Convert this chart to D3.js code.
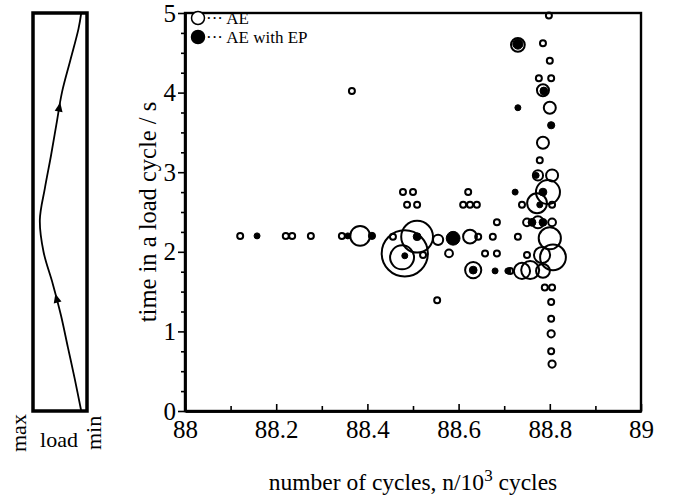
<!DOCTYPE html>
<html><head><meta charset="utf-8">
<script src="https://cdn.jsdelivr.net/npm/d3@7"></script>
<style>
html,body{margin:0;padding:0;background:#fff;}
svg{display:block;font-family:"Liberation Serif","Times New Roman",serif;}
</style></head>
<body>
<svg id="chart" width="679" height="498"></svg>
<script>
// ---- data ----
// AE events (open circles): number of cycles (x10^3), time in load cycle (s), amplitude (arb.)
const aeN = [88.121,88.221,88.235,88.276,88.344,88.384,88.366,88.456,88.482,88.476,88.509,88.478,88.500,88.487,88.509,88.522,88.555,88.625,88.643,88.675,88.579,88.658,88.684,88.632,88.553,88.621,88.610,88.625,88.640,88.684,88.739,88.730,88.750,88.713,88.739,88.757,88.785,88.783,88.807,88.800,88.772,88.796,88.805,88.774,88.805,88.778,88.785,88.800,88.785,88.776,88.803,88.800,88.785,88.730,88.798,88.789,88.805,88.803,88.803,88.803,88.803,88.805,88.750,88.805,88.774];
const aeT = [2.20,2.20,2.20,2.20,2.20,2.20,4.02,2.19,1.98,1.93,2.19,2.75,2.75,2.59,2.59,1.96,2.15,2.19,2.19,2.19,1.98,1.98,1.98,1.77,1.39,2.75,2.59,2.59,2.59,2.37,2.59,2.19,1.96,1.76,1.76,1.77,1.76,1.96,1.93,2.17,2.61,2.75,2.59,2.96,2.96,3.15,3.37,3.81,4.03,4.18,4.18,4.40,4.62,4.60,4.97,1.55,1.55,1.37,1.16,0.97,0.75,0.59,2.37,2.37,2.37];
const aeAmp = [1,1,1,1,1,3.3,1,1,7.7,4,5.3,1,1,1,1,1,1.7,2.3,1,1,1.3,1,1,2.7,1,1,1,1,1,1,1,1,1,1,2.7,3,2.3,2.7,4.3,3.7,3.3,4,1,1.7,2,1,2,2,2,1,1,1,1,2.3,1,1,1,1,1,1.2,1,1.2,1.3,1.3,2];
// AE with EP (filled circles)
const epN = [88.158,88.357,88.410,88.509,88.482,88.588,88.632,88.680,88.708,88.724,88.730,88.803,88.787,88.730,88.785,88.778,88.761,88.785,88.770];
const epT = [2.20,2.20,2.20,2.19,1.95,2.17,1.77,1.76,1.76,2.75,3.81,3.59,4.02,4.61,2.75,2.59,2.37,2.37,2.96];
const epAmp = [1,1,1.2,1.3,1,2.3,1.3,1,1,1,1,1.2,1.3,1.7,1.3,1,1.3,1.3,1];
// load waveform in the side panel: time (s) and load (0 = min, 1 = max)
const waveT = [0,0.4,0.8,1.2,1.6,2.0,2.4,2.8,3.2,3.6,4.0,4.4,4.8,5.0];
const waveLoad = [0.06,0.2,0.35,0.5,0.68,0.88,0.96,0.85,0.72,0.6,0.48,0.3,0.12,0.06];
const arrowT = [1.4,3.8];
const xMajor = [88,88.2,88.4,88.6,88.8,89];
const xMinor = [88.1,88.3,88.5,88.7,88.9];
const yMajor = [0,1,2,3,4,5];
const yMinor = [0.25,0.5,0.75,1.25,1.5,1.75,2.25,2.5,2.75,3.25,3.5,3.75,4.25,4.5,4.75];
const legendLabels = ["AE","AE with EP"];

// ---- drawing ----
const svg = d3.select("#chart");
const x = d3.scaleLinear().domain([88,89]).range([185,641]);
const y = d3.scaleLinear().domain([0,5]).range([411,13]);
const r = d3.scaleLinear().domain([0,10]).range([0,30]);

// frame
svg.append("rect").attr("x",x(88)).attr("y",y(5)).attr("width",x(89)-x(88)).attr("height",y(0)-y(5))
  .attr("fill","none").attr("stroke","#000").attr("stroke-width",2.4);

// x axis
const fmtX = d => d===88||d===89 ? String(d) : d.toFixed(1);
svg.append("g").attr("transform",`translate(0,${y(0)})`)
  .call(d3.axisBottom(x).tickValues(xMajor).tickFormat(fmtX).tickSizeInner(-7).tickSizeOuter(0).tickPadding(9));
svg.append("g").attr("transform",`translate(0,${y(0)})`)
  .call(d3.axisBottom(x).tickValues(xMinor).tickFormat("").tickSizeInner(-5).tickSizeOuter(0));
// y axis
svg.append("g").attr("transform",`translate(${x(88)},0)`)
  .call(d3.axisLeft(y).tickValues(yMajor).tickFormat(d3.format("d")).tickSizeInner(7).tickSizeOuter(0).tickPadding(2));
svg.append("g").attr("transform",`translate(${x(88)},0)`)
  .call(d3.axisLeft(y).tickValues(yMinor).tickFormat("").tickSizeInner(4).tickSizeOuter(0));
svg.selectAll(".domain").attr("stroke","#000").attr("stroke-width",2.4);
svg.selectAll(".tick line").attr("stroke","#000").attr("stroke-width",1.6);
svg.selectAll(".tick text").attr("font-family","'Liberation Serif',serif").attr("font-size",25).attr("fill","#000");

// axis titles
const xt = svg.append("text").attr("x",(x(88)+x(89))/2).attr("y",490).attr("text-anchor","middle")
  .attr("font-size",23.5);
xt.append("tspan").text("number of cycles, n/10");
xt.append("tspan").attr("dy",-9).attr("font-size",17).text("3");
xt.append("tspan").attr("dy",9).text(" cycles");
svg.append("text").attr("transform",`translate(156,${(y(0)+y(5))/2}) rotate(-90)`)
  .attr("text-anchor","middle").attr("font-size",24.5).text("time in a load cycle / s");

// data points
const ae = aeN.map((n,i)=>({n,t:aeT[i],a:aeAmp[i]}));
const ep = epN.map((n,i)=>({n,t:epT[i],a:epAmp[i]}));
svg.append("g").selectAll("circle").data(ae).join("circle")
  .attr("cx",d=>x(d.n)).attr("cy",d=>y(d.t)).attr("r",d=>r(d.a))
  .attr("fill","none").attr("stroke","#000").attr("stroke-width",2);
svg.append("g").selectAll("circle").data(ep).join("circle")
  .attr("cx",d=>x(d.n)).attr("cy",d=>y(d.t)).attr("r",d=>r(d.a))
  .attr("fill","#000").attr("stroke","#000").attr("stroke-width",1);

// legend
const lg = svg.append("g");
legendLabels.forEach((lab,i)=>{
  const ly = 18 + i*19;
  lg.append("circle").attr("cx",198).attr("cy",ly).attr("r",6.5)
    .attr("fill",i?"#000":"#fff").attr("stroke","#000").attr("stroke-width",1.5);
  lg.append("text").attr("x",206).attr("y",ly+5.5).attr("font-size",17).text("\u00b7\u00b7\u00b7 "+lab);
});

// side panel: load waveform
const lx = d3.scaleLinear().domain([1,0]).range([38,84]);
svg.append("rect").attr("x",33).attr("y",y(5)).attr("width",54).attr("height",y(0)-y(5))
  .attr("fill","none").attr("stroke","#000").attr("stroke-width",3.5);
const wave = waveT.map((t,i)=>[lx(waveLoad[i]),y(t)]);
svg.append("path").attr("d",d3.line().curve(d3.curveCatmullRom)(wave))
  .attr("fill","none").attr("stroke","#000").attr("stroke-width",1.8);
const interp = t => { const i = d3.bisectLeft(waveT,t); const t0=waveT[i-1],t1=waveT[i];
  const f=(t-t0)/(t1-t0); return waveLoad[i-1]+(waveLoad[i]-waveLoad[i-1])*f; };
arrowT.forEach(t=>{
  const px = lx(interp(t)), py = y(t);
  const qx = lx(interp(t+0.1)), qy = y(t+0.1);
  const ang = Math.atan2(qy-py,qx-px)*180/Math.PI + 90;
  svg.append("path").attr("d","M0,-6 L4,3 L-4,3 Z").attr("fill","#000")
    .attr("transform",`translate(${px},${py}) rotate(${ang})`);
});
svg.append("text").attr("transform","translate(26,452) rotate(-90)").attr("font-size",22).text("max");
svg.append("text").attr("x",59).attr("y",447).attr("text-anchor","middle").attr("font-size",22).text("load");
svg.append("text").attr("transform","translate(101,450) rotate(-90)").attr("font-size",22).text("min");
</script>
</body></html>
